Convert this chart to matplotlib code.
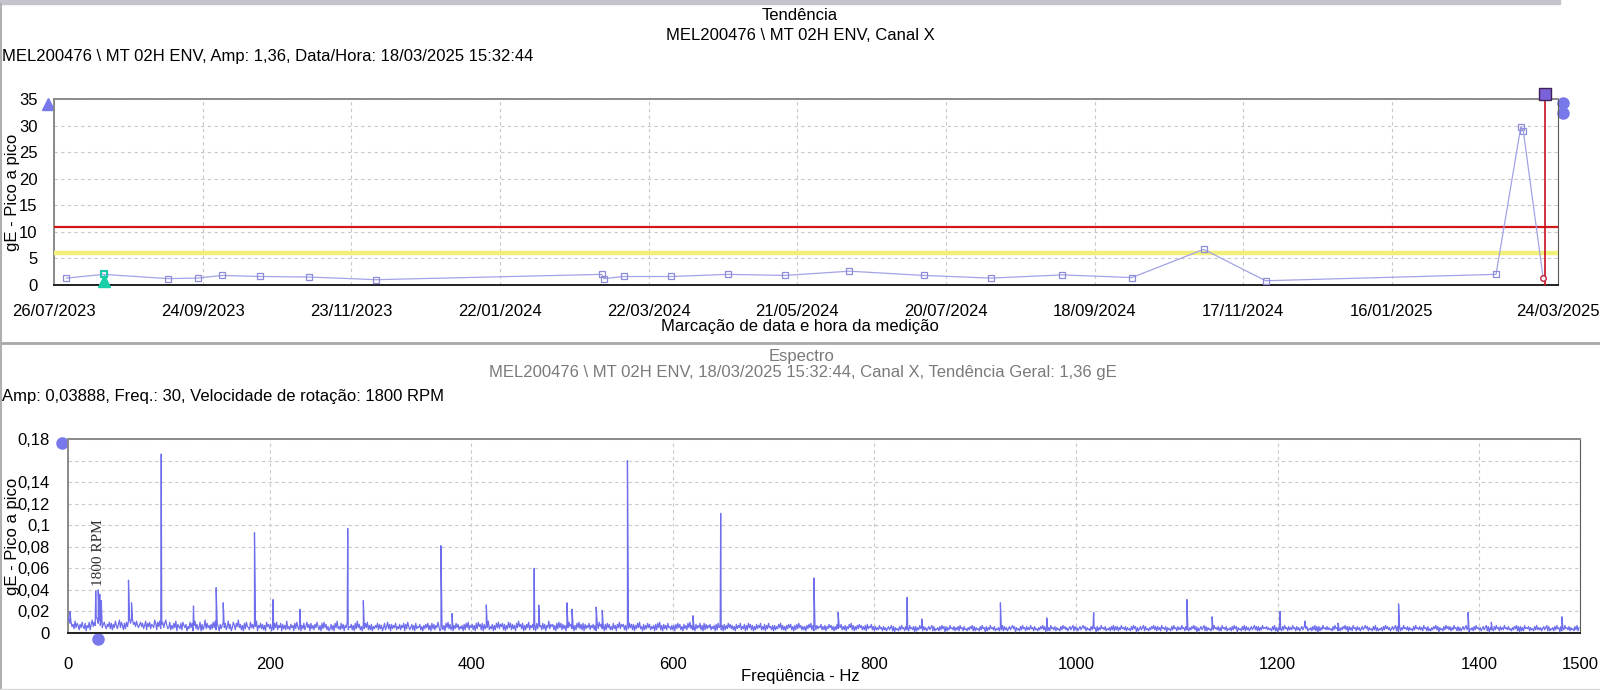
import datetime
import numpy as np
import matplotlib
matplotlib.use('Agg')
import matplotlib.pyplot as plt
import matplotlib.transforms as mtransforms
from matplotlib.patches import Rectangle
from matplotlib.lines import Line2D

plt.rcParams['font.family'] = ['Liberation Sans', 'DejaVu Sans']

# ---- trend data (gE pico a pico) ----
trend_dates = ['31/07/2023', '15/08/2023', '10/09/2023', '22/09/2023', '02/10/2023',
               '17/10/2023', '06/11/2023', '03/12/2023', '03/03/2024', '04/03/2024',
               '12/03/2024', '31/03/2024', '23/04/2024', '16/05/2024', '11/06/2024',
               '11/07/2024', '07/08/2024', '05/09/2024', '03/10/2024', '01/11/2024',
               '26/11/2024', '27/02/2025', '09/03/2025', '10/03/2025', '18/03/2025']
trend_values = [1.3, 2.0, 1.2, 1.3, 1.8,
                1.6, 1.5, 1.0, 2.0, 1.2,
                1.6, 1.6, 2.0, 1.8, 2.6,
                1.8, 1.3, 1.9, 1.4, 6.7,
                0.8, 2.0, 29.8, 29.0, 1.36]
alarm_level = 11.0
alert_level = 6.0
trend_start = '26/07/2023'
trend_end = '24/03/2025'
selected_time = '18/03/2025 15:32'
reference_date = '15/08/2023'

# ---- spectrum data ----
# background floor, one hex character per 1 Hz, value in 0.001 gE
noise_step = 1.0
noise_bands = [
    'fc9a684b597385a649275a38c6a7fd9c7b58a6486a49385b748c5a7394a6be9dc8a6b758a6947b396a4875c93a6b48a59c74',
    '5a37495b286493a758264a5927b4835a2836c4957384a5b3962847a5936b4825a7396c5837294a653a58496b275948372a68',
    '4826395a375928473b463857294a638274936a582947385a637294a583624837295b463948275a365837294b583628495a37',
    '382647593847259 36a4828475936483759284a635837294658362748593729483 75a624837295a4836274958364728395a37'.replace(' ', ''),
    '5837294a683928475b364827395a486938274a593847295b684927385a375838294a673948275b486837294a593847295a68',
    '4827395a483928475937583729 4a684728395836394728 5a4868372949583827495a462837495836472839 5a372847395637'.replace(' ', ''),
    '3728495836284739 5a473628475937293847583647283956372837495847362847593648273958372638475936382749 5637'.replace(' ', ''),
    '2736485937362748583627384957363627485937283746583637264857362638475836372648593726374857363728465836',
    '2635374526352463572615342637452635274536162537452635246357262435263746162537453625362745263425364726',
    '2534263745162537453624352637263524635746153426374526353745263425364736162527453625342637463524635726',
    '3524635746253426374516253745362435263726362537453625342637461524635726342536473626352745361534263745',
    '2635374526342536473615246357262534263745362527453624352637461534263726352463573626253745463534263725',
    '1534263745263537452635246357462435263726162537453635342637452425364736163527452635246357462534263725',
    '2435263746352463572616253745362534263745363527452624253647361534263746362537452625246357361435263745',
    '3524635726153426374526353745363425364726162527454625342637353524635726243526374516253745362534263725',
]
peak_freqs = [2.0, 27.5, 30.0, 31.5, 33.0, 60.0, 63.0, 92.5, 124.5, 147.0,
              154.0, 185.0, 203.5, 230.0, 277.5, 293.0, 370.0, 381.0, 415.0, 462.5,
              467.0, 495.0, 500.0, 524.0, 530.0, 555.0, 620.0, 647.5, 740.0, 764.0,
              832.5, 847.0, 925.0, 971.0, 1017.5, 1110.0, 1135.0, 1202.5, 1227.0, 1260.0,
              1320.0, 1389.0, 1412.0, 1482.0]
peak_amps = [0.020, 0.039, 0.040, 0.036, 0.030, 0.049, 0.028, 0.166, 0.025, 0.042,
             0.028, 0.093, 0.031, 0.022, 0.097, 0.030, 0.081, 0.018, 0.026, 0.060,
             0.026, 0.028, 0.022, 0.024, 0.021, 0.160, 0.016, 0.111, 0.051, 0.019,
             0.033, 0.013, 0.028, 0.014, 0.019, 0.031, 0.015, 0.020, 0.011, 0.009,
             0.027, 0.019, 0.010, 0.015]
rpm_freq = 30.0

TREND_COLOR = '#a3a3e6'
SPEC_COLOR = '#6e6eec'
DOT_COLOR = '#7878ea'
GRID_KW = dict(color='#c8c8c8', linestyle=(0, (3, 3)), linewidth=0.8)


def parse_date(s):
    return datetime.datetime.strptime(s, '%d/%m/%Y')


def comma(v, nd):
    s = ('%.' + str(nd) + 'f') % v
    s = s.rstrip('0').rstrip('.') if '.' in s else s
    return s.replace('.', ',')


def style_axes(ax):
    for side in ['left', 'top']:
        ax.spines[side].set_color('#8a8a8a')
        ax.spines[side].set_linewidth(1.4)
    ax.spines['right'].set_color('#5a5a5a')
    ax.spines['bottom'].set_color('#202020')
    ax.spines['bottom'].set_linewidth(1.4)
    ax.tick_params(length=0, labelsize=12)


fig = plt.figure(figsize=(16, 6.9), dpi=100)

# window frame
fig.patches.append(Rectangle((0, 1 - 4 / 690), 0.975, 4 / 690, transform=fig.transFigure,
                             color='#c4c4cc', zorder=0))
fig.add_artist(Line2D([0, 1], [1 - 343 / 690] * 2, color='#a8a8a8', lw=2))
fig.add_artist(Line2D([0.0008, 0.0008], [0, 1 - 4 / 690], color='#b0b0b0', lw=1.5))
fig.add_artist(Line2D([0, 1], [1 - 689 / 690] * 2, color='#d8d8d8', lw=1))

# ---------------- trend ----------------
ax1 = fig.add_axes([54 / 1600, 1 - 285 / 690, 1504 / 1600, 186 / 690])
style_axes(ax1)
start = parse_date(trend_start)
end = parse_date(trend_end)
dates = [parse_date(d) for d in trend_dates]

ax1.set_xlim(start, end)
ax1.set_ylim(0, 35)
ticks = [start + datetime.timedelta(days=60 * k) for k in range(10)] + [end]
ax1.set_xticks(ticks)
ax1.set_xticklabels([t.strftime('%d/%m/%Y') for t in ticks])
ax1.set_yticks(range(0, 36, 5))
ax1.tick_params(axis='x', pad=14)
ax1.tick_params(axis='y', pad=12)
ax1.grid(True, **GRID_KW)

ax1.axhline(alarm_level, color='#d01818', lw=1.6, zorder=3)
ax1.axhline(alert_level, color='#f2f07a', lw=3.2, zorder=3)
ax1.plot(dates[:-1], trend_values[:-1], color=TREND_COLOR, lw=0.9, marker='s', ms=4,
         mfc='none', mec='#8c8cd8', mew=0.9, zorder=4)
ax1.plot(dates[-2:], trend_values[-2:], color=TREND_COLOR, lw=0.9, zorder=4)
ax1.plot(dates[-1], trend_values[-1], marker='o', ms=4, mfc='white', mec='#c02040',
         mew=1, zorder=6)

sel = datetime.datetime.strptime(selected_time, '%d/%m/%Y %H:%M')
ax1.plot([sel, sel], [0, 35.9], color='#c81020', lw=1.2, zorder=5, clip_on=False)
ax1.plot(sel, 36.0, marker='s', ms=8, mfc='#7a62d8', mec='#40205a', mew=1,
         clip_on=False, zorder=6)

ref = parse_date(reference_date)
ax1.plot(ref, trend_values[trend_dates.index(reference_date)], marker='s', ms=5,
         mfc='none', mec='#18c8a8', mew=1.5, zorder=6)
ax1.plot(ref, 0.8, marker='^', ms=8, color='#18d0a8', zorder=6, clip_on=False)

ax1.plot([-0.004], [0.973], marker='^', ms=9, color=DOT_COLOR, transform=ax1.transAxes,
         clip_on=False)
ax1.plot([1.0035, 1.0035], [0.978, 0.925], 'o', ms=8, color=DOT_COLOR,
         transform=ax1.transAxes, clip_on=False)

fig.text(800 / 1600, 1 - 16 / 690, 'Tendência', ha='center', va='center', fontsize=12)
fig.text(800 / 1600, 1 - 36 / 690, 'MEL200476 \\ MT 02H ENV, Canal X', ha='center',
         va='center', fontsize=12)
fig.text(2 / 1600, 1 - 56 / 690,
         'MEL200476 \\ MT 02H ENV, Amp: 1,36, Data/Hora: 18/03/2025 15:32:44',
         ha='left', va='center', fontsize=12)
fig.text(13 / 1600, 1 - 192 / 690, 'gE - Pico a pico', rotation=90, ha='center',
         va='center', fontsize=12)
fig.text(800 / 1600, 1 - 326 / 690, 'Marcação de data e hora da medição', ha='center',
         va='center', fontsize=12)

# ---------------- spectrum ----------------
ax2 = fig.add_axes([68 / 1600, 1 - 633 / 690, 1512 / 1600, 194 / 690])
style_axes(ax2)

noise = np.array([int(c, 16) for band in noise_bands for c in band]) * 0.001
noise_f = np.arange(len(noise)) * noise_step
freqs = np.concatenate([noise_f, peak_freqs])
amps = np.concatenate([noise, peak_amps])
order = np.argsort(freqs, kind='stable')

ax2.plot(freqs[order], amps[order], color=SPEC_COLOR, lw=0.9, zorder=4)
ax2.set_xlim(0, 1500)
ax2.set_ylim(0, 0.18)
ax2.set_xticks([0, 200, 400, 600, 800, 1000, 1200, 1400, 1500])
ax2.set_yticks(np.arange(0, 0.181, 0.02))
ax2.set_yticklabels(['' if abs(v - 0.16) < 1e-6 else comma(v, 2)
                     for v in np.arange(0, 0.181, 0.02)])
ax2.tick_params(axis='x', pad=17)
ax2.tick_params(axis='y', pad=13)
ax2.grid(True, **GRID_KW)

ax2.text(rpm_freq, 0.075, '1800 RPM', rotation=90, ha='center', va='center',
         fontsize=11, family=['Liberation Serif', 'DejaVu Serif'], color='#303030')

blend = mtransforms.blended_transform_factory(ax2.transData, ax2.transAxes)
ax2.plot([rpm_freq], [-0.03], 'o', ms=8, color=DOT_COLOR, transform=blend, clip_on=False)
ax2.plot([-0.004], [0.979], 'o', ms=8, color=DOT_COLOR, transform=ax2.transAxes,
         clip_on=False)

fig.text(802 / 1600, 1 - 357 / 690, 'Espectro', ha='center', va='center', fontsize=12,
         color='#7a7a7a')
fig.text(803 / 1600, 1 - 373 / 690,
         'MEL200476 \\ MT 02H ENV, 18/03/2025 15:32:44, Canal X, Tendência Geral: 1,36 gE',
         ha='center', va='center', fontsize=12, color='#7a7a7a')
fig.text(2 / 1600, 1 - 396 / 690,
         'Amp: 0,03888, Freq.: 30, Velocidade de rotação: 1800 RPM',
         ha='left', va='center', fontsize=12)
fig.text(13 / 1600, 1 - 536 / 690, 'gE - Pico a pico', rotation=90, ha='center',
         va='center', fontsize=12)
fig.text(800 / 1600, 1 - 677 / 690, 'Freqüência - Hz', ha='center', va='center',
         fontsize=12)

fig.savefig('out.png', dpi=100)
